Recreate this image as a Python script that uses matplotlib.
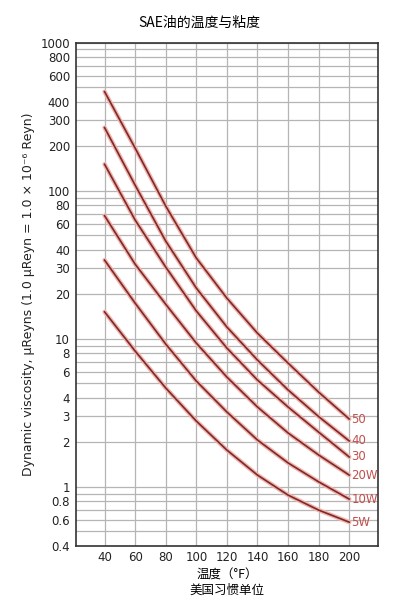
import matplotlib.pyplot as plt

plt.rcParams['font.family'] = ['DejaVu Sans', 'Noto Sans CJK SC']

# 温度 (°F)
temps = [40, 60, 80, 100, 120, 140, 160, 180, 200]

# 各等级粘度 (μReyn)
sae_50 = [467, 194, 78.8, 35.1, 18.8, 10.9, 6.85, 4.36, 2.87]
sae_40 = [267, 109, 45.7, 22.0, 12.0, 7.18, 4.51, 2.98, 2.04]
sae_30 = [151, 63.4, 30.5, 15.4, 8.65, 5.26, 3.46, 2.34, 1.59]
sae_20w = [67.8, 31.9, 17.1, 9.35, 5.51, 3.46, 2.31, 1.64, 1.20]
sae_10w = [34.0, 17.4, 9.21, 5.18, 3.20, 2.07, 1.45, 1.08, 0.826]
sae_5w = [15.2, 8.26, 4.65, 2.78, 1.77, 1.20, 0.879, 0.696, 0.577]

grades = ['50', '40', '30', '20W', '10W', '5W']
series = [sae_50, sae_40, sae_30, sae_20w, sae_10w, sae_5w]

# y 轴网格与刻度
grid_vals = ([0.4, 0.5, 0.6, 0.7, 0.8, 0.9]
             + [1, 2, 3, 4, 5, 6, 7, 8, 9]
             + [10, 20, 30, 40, 50, 60, 70, 80, 90]
             + [100, 200, 300, 400, 500, 600, 700, 800, 900, 1000])
label_vals = [0.4, 0.6, 0.8, 1, 2, 3, 4, 6, 8, 10, 20, 30, 40, 60, 80,
              100, 200, 300, 400, 600, 800, 1000]
x_ticks = [40, 60, 80, 100, 120, 140, 160, 180, 200]

fig = plt.figure(figsize=(3.98, 6.05), dpi=100)
ax = fig.add_axes([0.1897, 0.098, 0.7608, 0.8314])

ax.set_yscale('log')
ax.set_xlim(21, 219)
ax.set_ylim(0.4, 1000)

ax.set_yticks(grid_vals)
ax.set_yticklabels([('%g' % v if v in label_vals else '') for v in grid_vals])
ax.yaxis.set_minor_locator(plt.NullLocator())
ax.set_xticks(x_ticks)
ax.tick_params(length=0, labelsize=8.5, colors='#222222', pad=4)
ax.grid(True, color='#b5b5b5', linewidth=0.9)
ax.set_axisbelow(True)

for s in ax.spines.values():
    s.set_color('#333333')
    s.set_linewidth(1.2)

# 曲线（外发光 + 深色线）
for name, vals in zip(grades, series):
    ax.plot(temps, vals, color='#f3b3ad', linewidth=3.2,
            solid_joinstyle='round', solid_capstyle='round', zorder=3)
    ax.plot(temps, vals, color='#7a2a2a', linewidth=1.2,
            solid_joinstyle='round', zorder=4)
    ax.text(temps[-1] + 1.5, vals[-1], name, color='#c0504d', fontsize=8.5,
            ha='left', va='center', zorder=5)

fig.text(0.5, 0.963, 'SAE油的温度与粘度', ha='center', va='center',
         fontsize=10, family=['Noto Sans CJK SC'], fontweight='medium')

ax.set_ylabel('Dynamic viscosity, μReyns (1.0 μReyn = 1.0 × 10⁻⁶ Reyn)',
              fontsize=9, color='#222222', labelpad=4)

fig.text(0.5705, 0.050, '温度（°F）', ha='center', va='center',
         fontsize=9, family=['Noto Sans CJK SC', 'DejaVu Sans'])
fig.text(0.5705, 0.024, '美国习惯单位', ha='center', va='center',
         fontsize=9, family=['Noto Sans CJK SC', 'DejaVu Sans'])

fig.savefig('out.png', dpi=100, facecolor='white')
